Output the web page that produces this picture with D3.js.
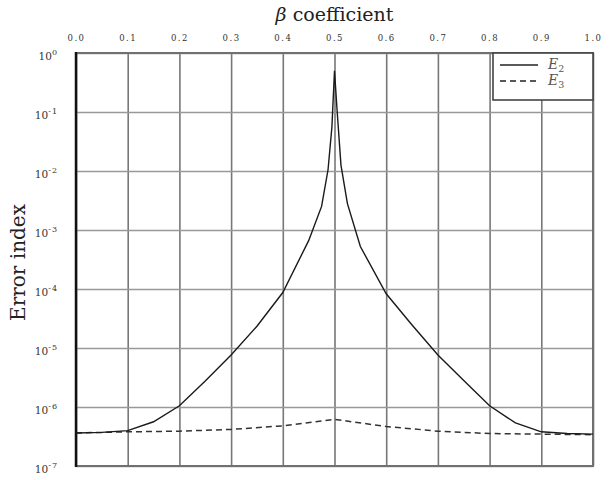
<!DOCTYPE html>
<html>
<head>
<meta charset="utf-8">
<script src="https://cdn.jsdelivr.net/npm/d3@7"></script>
<style>
  body { margin: 0; background: #fff; }
  svg { display: block; }
</style>
</head>
<body>
<div id="chart"></div>
<script>
// beta values and error indices
const betaE2 = [0.00, 0.05, 0.10, 0.15, 0.20, 0.25, 0.30, 0.35, 0.40, 0.45, 0.475, 0.4875, 0.495, 0.50,
                0.505, 0.5125, 0.525, 0.55, 0.60, 0.65, 0.70, 0.75, 0.80, 0.85, 0.90, 0.95, 1.00];
const errE2 = [3.63e-7, 3.72e-7, 3.98e-7, 5.62e-7, 1.05e-6, 2.75e-6, 7.59e-6, 2.34e-5, 8.71e-5, 6.6e-4, 2.51e-3, 1.05e-2, 5.6e-2, 0.50,
               0.107, 1.26e-2, 2.8e-3, 5.25e-4, 8.3e-5, 2.45e-5, 7.59e-6, 2.82e-6, 1.05e-6, 5.37e-7, 3.80e-7, 3.55e-7, 3.47e-7];

const betaE3 = [0.0, 0.1, 0.2, 0.3, 0.4, 0.5, 0.6, 0.7, 0.8, 0.9, 1.0];
const errE3 = [3.63e-7, 3.80e-7, 3.89e-7, 4.17e-7, 4.79e-7, 6.17e-7, 4.68e-7, 3.89e-7, 3.55e-7, 3.47e-7, 3.39e-7];

const xTicks = [0.0, 0.1, 0.2, 0.3, 0.4, 0.5, 0.6, 0.7, 0.8, 0.9, 1.0];
const yExponents = [0, -1, -2, -3, -4, -5, -6, -7];

// 1. SVG and margins
const W = 610, H = 480;
const margin = { top: 53, right: 17, bottom: 14, left: 76 };
const width = W - margin.left - margin.right;
const height = H - margin.top - margin.bottom;

const svg = d3.select("#chart").append("svg")
    .attr("width", W)
    .attr("height", H);

const g = svg.append("g")
    .attr("transform", `translate(${margin.left},${margin.top})`);

// 2. Scales
const x = d3.scaleLinear().domain([0, 1]).range([0, width]);
const y = d3.scaleLog().domain([1e-7, 1]).range([height, 0]);

// 3. Grid lines
g.append("g")
    .attr("class", "grid")
    .call(d3.axisBottom(x).tickValues(xTicks).tickSize(height).tickFormat(""))
    .call(s => s.select(".domain").remove())
    .selectAll("line")
      .attr("stroke", "#777")
      .attr("stroke-width", 1.6);

g.append("g")
    .attr("class", "grid")
    .call(d3.axisLeft(y).tickValues(yExponents.map(e => Math.pow(10, e))).tickSize(-width).tickFormat(""))
    .call(s => s.select(".domain").remove())
    .selectAll("line")
      .attr("stroke", "#999")
      .attr("stroke-width", 1.6);

// frame
g.append("rect")
    .attr("width", width)
    .attr("height", height)
    .attr("fill", "none")
    .attr("stroke", "#707070")
    .attr("stroke-width", 2);

g.append("line")
    .attr("x1", 0).attr("x2", 0)
    .attr("y1", -1).attr("y2", height + 1)
    .attr("stroke", "#111")
    .attr("stroke-width", 2.5);

// 4. Tick labels (top x axis, left log axis)
const xAxis = g.append("g")
    .call(d3.axisTop(x).tickValues(xTicks).tickSize(0).tickPadding(12).tickFormat(d3.format(".1f")));
xAxis.select(".domain").remove();
xAxis.selectAll("text")
    .attr("font-family", "DejaVu Serif")
    .attr("font-size", 8.5)
    .attr("letter-spacing", "1.5px")
    .attr("fill", "#333");

const yAxis = g.append("g")
    .call(d3.axisLeft(y).tickValues(yExponents.map(e => Math.pow(10, e))).tickSize(0).tickFormat(""));
yAxis.select(".domain").remove();
yAxis.selectAll(".tick").each(function(d) {
  const t = d3.select(this).append("text")
      .attr("x", -18)
      .attr("dy", "0.6em")
      .attr("text-anchor", "end")
      .attr("font-family", "DejaVu Serif")
      .attr("font-size", 10.5)
      .attr("fill", "#333");
  t.append("tspan").text("10");
  t.append("tspan")
      .attr("dy", "-0.6em")
      .attr("font-size", 8)
      .attr("letter-spacing", "1px")
      .text(Math.round(Math.log10(d)));
});

// 5. Titles
svg.append("text")
    .attr("x", margin.left + width / 2)
    .attr("y", 21)
    .attr("text-anchor", "middle")
    .attr("font-family", "DejaVu Serif")
    .attr("font-size", 19)
    .attr("fill", "#222")
    .html('<tspan font-style="italic">β</tspan> coefficient');

svg.append("text")
    .attr("transform", `translate(25,${margin.top + height / 2 + 3}) rotate(-90)`)
    .attr("text-anchor", "middle")
    .attr("font-family", "DejaVu Serif")
    .attr("font-size", 20)
    .attr("fill", "#222")
    .text("Error index");

// 6. Lines
const line = d3.line()
    .x(d => x(d[0]))
    .y(d => y(d[1]));

g.append("path")
    .datum(betaE3.map((b, i) => [b, errE3[i]]))
    .attr("fill", "none")
    .attr("stroke", "#333")
    .attr("stroke-width", 1.5)
    .attr("stroke-dasharray", "6,4")
    .attr("d", line);

g.append("path")
    .datum(betaE2.map((b, i) => [b, errE2[i]]))
    .attr("fill", "none")
    .attr("stroke", "#1a1a1a")
    .attr("stroke-width", 1.4)
    .attr("d", line);

// 7. Legend
const lg = g.append("g")
    .attr("transform", `translate(${width - 100},0)`);

lg.append("rect")
    .attr("width", 100)
    .attr("height", 47)
    .attr("fill", "#fff")
    .attr("stroke", "#444")
    .attr("stroke-width", 1.6);

const items = [
  { name: "E", sub: "2", dash: null },
  { name: "E", sub: "3", dash: "6,4" }
];
items.forEach((it, i) => {
  const yy = 12 + i * 16;
  lg.append("line")
      .attr("x1", 7).attr("x2", 45)
      .attr("y1", yy).attr("y2", yy)
      .attr("stroke", "#222")
      .attr("stroke-width", 1.4)
      .attr("stroke-dasharray", it.dash);
  const t = lg.append("text")
      .attr("x", 55)
      .attr("y", yy + 4)
      .attr("font-family", "DejaVu Serif")
      .attr("font-style", "italic")
      .attr("font-size", 14)
      .attr("fill", "#555");
  t.append("tspan").text(it.name);
  t.append("tspan")
      .attr("dy", "0.3em")
      .attr("font-size", 9.5)
      .attr("font-style", "normal")
      .text(it.sub);
});
</script>
</body>
</html>
